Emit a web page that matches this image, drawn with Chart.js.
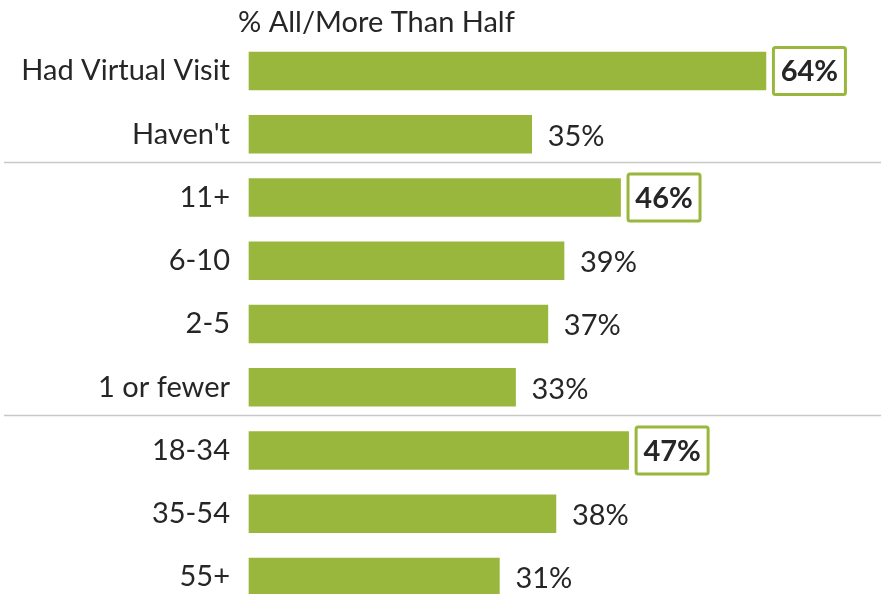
<!DOCTYPE html>
<html>
<head>
<meta charset="utf-8">
<script src="https://cdn.jsdelivr.net/npm/chart.js@4"></script>
<style>
  html, body { margin: 0; padding: 0; background: #ffffff; }
  #wrap { width: 881px; height: 594px; }
</style>
</head>
<body>
<div id="wrap"><canvas id="chart" width="881" height="594"></canvas></div>
<script>
// Share answering "All" or "More than half", by group
const categories = ["Had Virtual Visit", "Haven't", "11+", "6-10", "2-5", "1 or fewer", "18-34", "35-54", "55+"];
const values = [64, 35, 46, 39, 37, 33, 47, 38, 31];
// groups whose top value is boxed
const boxed = [0, 2, 6];
// a divider is drawn above these rows
const groupStarts = [2, 6];
const heading = "% All/More Than Half";

const GREEN = "#99b73d";
const TEXT = "#262626";
const FONT = "Lato, 'Open Sans', sans-serif";
const FONT_SIZE = 29;

const decorations = {
  id: "decorations",
  afterDatasetsDraw(chart) {
    const ctx = chart.ctx;
    const yScale = chart.scales.y;
    ctx.save();

    // heading
    ctx.fillStyle = TEXT;
    ctx.font = `${FONT_SIZE}px ${FONT}`;
    ctx.textAlign = "left";
    ctx.textBaseline = "middle";
    ctx.fillText(heading, 238, 23);

    // dividers between groups
    ctx.strokeStyle = "#c8c8c8";
    ctx.lineWidth = 1.5;
    groupStarts.forEach(i => {
      const y = Math.round((yScale.getPixelForValue(i - 1) + yScale.getPixelForValue(i)) / 2 - 4) + 0.5;
      ctx.beginPath();
      ctx.moveTo(4, y);
      ctx.lineTo(881, y);
      ctx.stroke();
    });

    // value labels
    const meta = chart.getDatasetMeta(0);
    meta.data.forEach((bar, i) => {
      const label = values[i] + "%";
      if (boxed.includes(i)) {
        const bw = 75, bh = 50;
        const bx = bar.x + 6, by = bar.y - bh / 2;
        ctx.fillStyle = "#ffffff";
        ctx.fillRect(bx, by, bw, bh);
        ctx.strokeStyle = GREEN;
        ctx.lineWidth = 3;
        ctx.beginPath();
        ctx.roundRect(bx + 1.5, by + 1.5, bw - 3, bh - 3, 2);
        ctx.stroke();
        ctx.fillStyle = TEXT;
        ctx.font = `bold ${FONT_SIZE}px ${FONT}`;
        ctx.textAlign = "center";
        ctx.fillText(label, bx + bw / 2, bar.y + 1);
      } else {
        ctx.fillStyle = TEXT;
        ctx.font = `${FONT_SIZE}px ${FONT}`;
        ctx.textAlign = "left";
        ctx.fillText(label, bar.x + 16, bar.y + 2);
      }
    });
    ctx.restore();
  }
};

new Chart(document.getElementById("chart"), {
  type: "bar",
  data: {
    labels: categories,
    datasets: [{
      data: values,
      backgroundColor: GREEN,
      borderWidth: 0,
      barThickness: 38,
      clip: false
    }]
  },
  options: {
    indexAxis: "y",
    responsive: false,
    animation: false,
    layout: { padding: { top: 71, bottom: 17, left: 0, right: 2 } },
    plugins: {
      legend: { display: false },
      tooltip: { enabled: false },
      title: { display: false }
    },
    scales: {
      x: {
        display: false,
        min: 0,
        max: 78
      },
      y: {
        offset: false,
        grid: { display: false, drawTicks: false },
        border: { display: false },
        ticks: {
          color: TEXT,
          padding: 19,
          font: { family: FONT, size: FONT_SIZE }
        },
        afterFit(scale) {
          scale.width = 249;
          scale.paddingTop = 0;
          scale.paddingBottom = 0;
        }
      }
    }
  },
  plugins: [decorations]
});
</script>
</body>
</html>
